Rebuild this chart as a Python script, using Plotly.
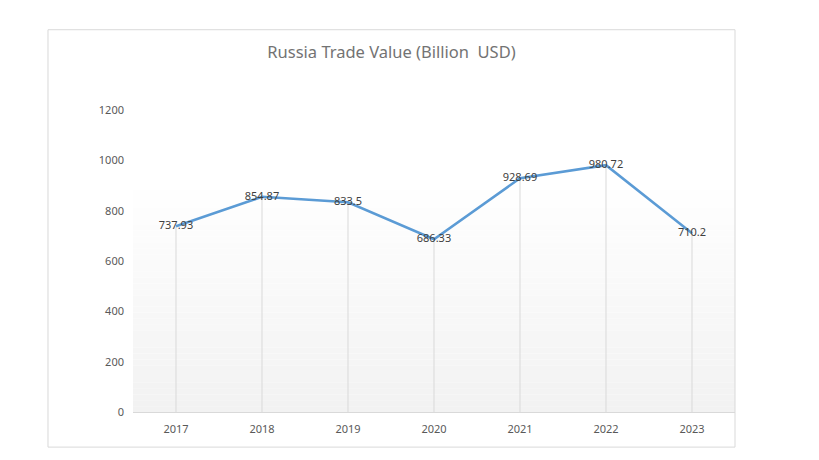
import plotly.graph_objects as go

years = ["2017", "2018", "2019", "2020", "2021", "2022", "2023"]
values = [737.93, 854.87, 833.5, 686.33, 928.69, 980.72, 710.2]
labels = ["737.93", "854.87", "833.5", "686.33", "928.69", "980.72", "710.2"]
title_text = "Russia Trade Value (Billion  USD)"

FONT = "Noto Sans"

fig = go.Figure()

# drop lines from each point to zero
dx, dy = [], []
for yr, v in zip(years, values):
    dx += [yr, yr, None]
    dy += [0, v, None]
fig.add_trace(go.Scatter(x=dx, y=dy, mode="lines", line=dict(color="#d9d9d9", width=1),
                         hoverinfo="skip", showlegend=False))

fig.add_trace(go.Scatter(x=years, y=values, mode="lines+text", text=labels,
                         textposition="middle center",
                         textfont=dict(family=FONT, size=11, color="#404040"),
                         line=dict(color="#5b9bd5", width=2.5), showlegend=False))

shapes = []
# gradient background (white top to light gray bottom)
n = 40
y0, y1 = 0.0, 0.774
for i in range(n):
    t = i / (n - 1)
    c = int(round(242 + (255 - 242) * t))
    shapes.append(dict(type="rect", xref="paper", yref="paper", x0=0, x1=1,
                       y0=y0 + (y1 - y0) * i / n, y1=y0 + (y1 - y0) * (i + 1) / n,
                       fillcolor=f"rgb({c},{c},{c})", line=dict(width=0), layer="below"))
# outer chart border
shapes.append(dict(type="rect", xref="paper", yref="paper", x0=-0.1412, x1=1.0,
                   y0=-0.1163, y1=1.2658, line=dict(color="#d9d9d9", width=1),
                   fillcolor="rgba(0,0,0,0)", layer="above"))

fig.update_layout(
    width=819, height=460,
    margin=dict(l=133, r=84, t=110, b=48),
    paper_bgcolor="white", plot_bgcolor="white",
    shapes=shapes,
    title=dict(text=title_text, x=(48 + 735) / 2 / 819, xanchor="center",
               y=1 - 52 / 460, yanchor="middle",
               font=dict(family=FONT, size=16.5, color="#737373")),
    xaxis=dict(type="category", range=[-0.5, 6.5], showgrid=False, zeroline=False,
               showline=True, linecolor="#d9d9d9", linewidth=1, ticks="",
               ticklabelstandoff=7,
               tickfont=dict(family=FONT, size=11, color="#595959")),
    yaxis=dict(range=[0, 1200], dtick=200, showgrid=False, zeroline=False,
               showline=False, ticks="", ticklabelstandoff=8,
               tickfont=dict(family=FONT, size=11, color="#595959")),
    font=dict(family=FONT),
)

fig.write_html("out.html")
